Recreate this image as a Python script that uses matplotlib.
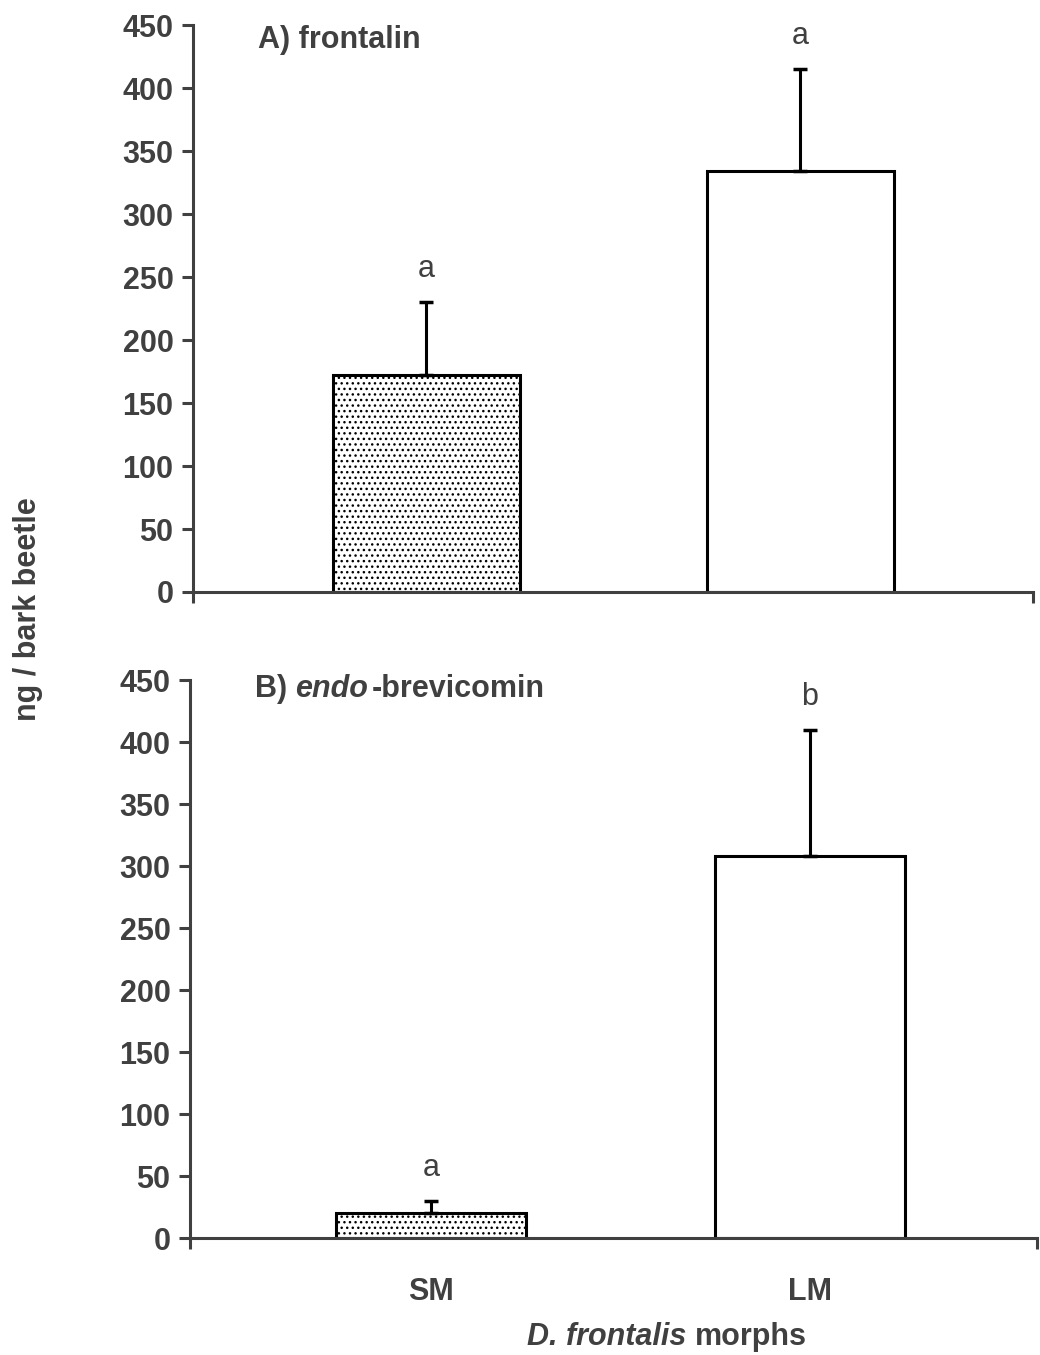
import matplotlib
matplotlib.use("Agg")
import matplotlib.pyplot as plt
from matplotlib.ticker import FixedLocator

plt.rcParams['font.family'] = ['Liberation Sans', 'DejaVu Sans']
plt.rcParams['hatch.color'] = '#333333'
plt.rcParams['hatch.linewidth'] = 1.0

categories = ["SM", "LM"]
frontalin_mean = [172, 334]
frontalin_err = [58, 81]
frontalin_letters = ["a", "a"]
brevicomin_mean = [20, 308]
brevicomin_err = [10, 102]
brevicomin_letters = ["a", "b"]
yticks = [0, 50, 100, 150, 200, 250, 300, 350, 400, 450]

GREY = '#404040'
FS = 22
fig = plt.figure(figsize=(10.4, 13.55), dpi=100)
ax1 = fig.add_axes([0.1856, 0.5631, 0.8077, 0.4184])
ax2 = fig.add_axes([0.1827, 0.0863, 0.8143, 0.4118])

def style(ax, means, errs, letters, xlim):
    x = list(range(len(categories)))
    hatches = ['...', '']
    for xi, m, e, h in zip(x, means, errs, hatches):
        ax.bar(xi, m, width=0.5, color='white', edgecolor='black',
               linewidth=2.2, hatch=h, zorder=2)
        ax.errorbar(xi, m, yerr=[[0], [e]], fmt='none', ecolor='black',
                    elinewidth=2.2, capsize=5, capthick=2.5, zorder=3)
    for xi, m, e, l in zip(x, means, errs, letters):
        ax.annotate(l, (xi, m + e), xytext=(0, 13), textcoords='offset points',
                    ha='center', va='bottom', fontsize=FS, color=GREY)
    ax.set_ylim(0, 450)
    ax.set_xlim(*xlim)
    ax.yaxis.set_major_locator(FixedLocator(yticks))
    for s in ['top', 'right']:
        ax.spines[s].set_visible(False)
    for s in ['left', 'bottom']:
        ax.spines[s].set_color(GREY)
        ax.spines[s].set_linewidth(2.2)
    ax.tick_params(axis='y', direction='out', length=8, width=2.2, color=GREY,
                   labelsize=FS, labelcolor=GREY, pad=6)
    for t in ax.get_yticklabels():
        t.set_fontweight('bold')
    ax.set_xticks([xlim[0], xlim[1]], minor=True)
    ax.tick_params(axis='x', which='minor', direction='out', length=8, width=2.2,
                   color=GREY)

style(ax1, frontalin_mean, frontalin_err, frontalin_letters, (-0.623, 1.623))
style(ax2, brevicomin_mean, brevicomin_err, brevicomin_letters, (-0.636, 1.599))

ax1.set_xticks([])
ax2.set_xticks([0, 1])
ax2.set_xticklabels(categories, fontsize=FS, fontweight='bold', color=GREY)
ax2.tick_params(axis='x', which='major', length=0, pad=28)

# panel titles
fig.text(0.248, 0.9645, "A) frontalin", fontsize=FS, fontweight='bold', color=GREY)
fig.canvas.draw()
r = fig.canvas.get_renderer()
t1 = fig.text(0.245, 0.4856, "B) ", fontsize=FS, fontweight='bold', color=GREY)
bb = t1.get_window_extent(r)
t2 = fig.text(bb.x1 / fig.bbox.width, 0.4856, "endo", fontsize=FS, fontweight='bold',
              style='italic', color=GREY)
bb2 = t2.get_window_extent(r)
fig.text(bb2.x1 / fig.bbox.width + 0.003, 0.4856, "-brevicomin", fontsize=FS,
         fontweight='bold', color=GREY)

# x label
t3 = fig.text(0.507, 0.0075, "D. frontalis", fontsize=FS, fontweight='bold',
              style='italic', color=GREY)
bb3 = t3.get_window_extent(r)
fig.text(bb3.x1 / fig.bbox.width + 0.008, 0.0075, "morphs", fontsize=FS,
         fontweight='bold', color=GREY)

# y label
fig.text(0.027, 0.5506, "ng / bark beetle", fontsize=FS, fontweight='bold',
         color=GREY, rotation=90, ha='center', va='center')

fig.savefig("out.png", dpi=100)
